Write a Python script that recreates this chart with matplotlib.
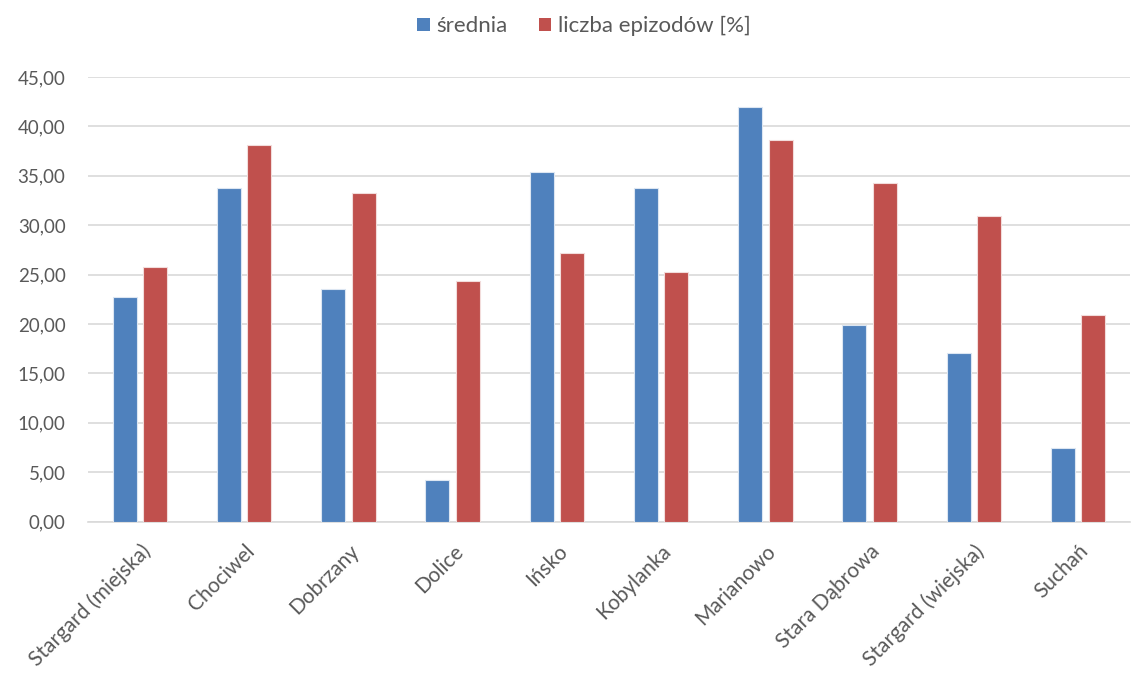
import matplotlib.pyplot as plt
import numpy as np
from matplotlib.patches import Patch
from matplotlib.ticker import FuncFormatter

# data
gminy = ["Stargard (miejska)", "Chociwel", "Dobrzany", "Dolice", "Ińsko",
         "Kobylanka", "Marianowo", "Stara Dąbrowa", "Stargard (wiejska)", "Suchań"]
srednia = [22.74, 33.78, 23.55, 4.19, 35.34, 33.78, 41.96, 19.90, 17.03, 7.43]
epizody = [25.74, 38.07, 33.28, 24.32, 27.20, 25.24, 38.61, 34.29, 30.95, 20.91]

blue = '#4F81BD'
red = '#C0504D'
txt = '#595959'
grid = '#D9D9D9'

plt.rcParams['font.family'] = ['Lato', 'DejaVu Sans']

fig = plt.figure(figsize=(11.36, 6.75), dpi=100)
ax = fig.add_axes([0.0773, 0.2274, 0.9177, 0.6586])

x = np.arange(len(gminy))
w = 0.23
off = 0.146
ax.bar(x - off, srednia, w, color=blue, edgecolor='#DCE6F2', linewidth=0.8, zorder=3)
ax.bar(x + off, epizody, w, color=red, edgecolor='#F2DCDB', linewidth=0.8, zorder=3)

ax.set_xlim(-0.5, len(gminy) - 0.5)
ax.set_ylim(0, 45)
ax.set_yticks(np.arange(0, 46, 5))
ax.yaxis.set_major_formatter(FuncFormatter(lambda v, p: f"{v:.2f}".replace('.', ',')))
ax.grid(axis='y', color=grid, linewidth=1.2, zorder=0)
for s in ['top', 'right', 'left']:
    ax.spines[s].set_visible(False)
ax.spines['bottom'].set_color(grid)
ax.spines['bottom'].set_linewidth(1.2)
ax.tick_params(axis='both', length=0, colors=txt)
ax.tick_params(axis='y', pad=16, labelsize=13.5)

ax.set_xticks(x)
ax.set_xticklabels(gminy, rotation=45, ha='right', rotation_mode='anchor', fontsize=15)
ax.tick_params(axis='x', pad=14)

handles = [Patch(facecolor=blue, label='średnia'),
           Patch(facecolor=red, label='liczba epizodów [%]')]
fig.legend(handles=handles, loc='center', bbox_to_anchor=(0.514, 0.961), ncol=2,
           frameon=False, fontsize=16, labelcolor=txt, handlelength=0.55,
           handleheight=0.55, handletextpad=0.3, columnspacing=1.4)

fig.savefig('out.png', dpi=100)
